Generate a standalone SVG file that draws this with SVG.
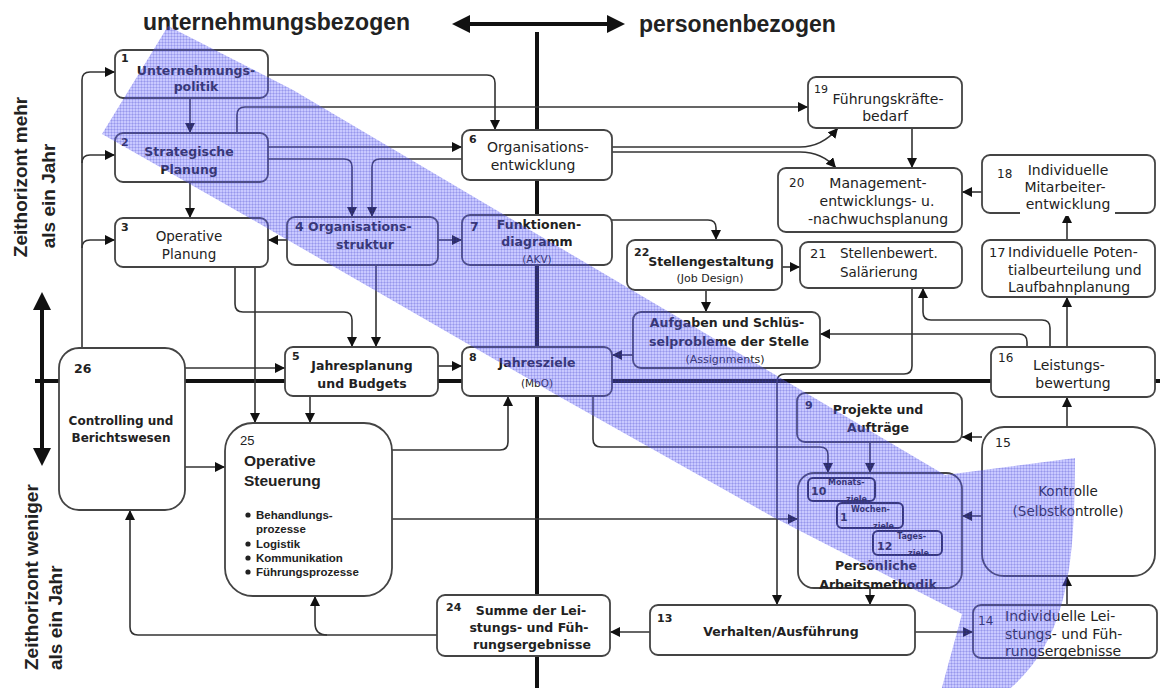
<svg xmlns="http://www.w3.org/2000/svg" width="1160" height="688" viewBox="0 0 1160 688">
<style>
  .box{fill:#fff;stroke:#444;stroke-width:1.8}
  .t{font-family:"DejaVu Sans",Verdana,sans-serif;fill:#222}
  .a{font-family:"Liberation Sans",Arial,sans-serif;fill:#222}
  .bd{font-weight:bold;font-size:12.5px}
  .rg{font-size:14px}
  .sm{font-size:10.5px}
  .num{font-size:11px;font-weight:bold}
  .m{text-anchor:middle}
  .c{fill:none;stroke:#333;stroke-width:1.6;marker-end:url(#ah)}
  .k{fill:none;stroke:#111;stroke-width:4}
  .inner{fill:#fff;stroke:#223;stroke-width:2}
  .tiny{font-size:8px;font-weight:bold}
</style>
<defs>
  <marker id="ah" viewBox="0 0 10 10" refX="10" refY="5" markerWidth="10" markerHeight="10" markerUnits="userSpaceOnUse" orient="auto">
    <path d="M0,0 L10,5 L0,10 z" fill="#111"/>
  </marker>
  <pattern id="grid" width="3" height="3" patternUnits="userSpaceOnUse">
    <rect width="3" height="3" fill="#6464ff" fill-opacity="0.35"/>
    <path d="M0,0.5 H3 M0.5,0 V3" stroke="#3030c8" stroke-opacity="0.18" stroke-width="1"/>
  </pattern>
</defs>

<!-- headings and axes -->
<g id="axes">
  <text class="a" x="143" y="30" font-size="23" font-weight="bold">unternehmungsbezogen</text>
  <text class="a" x="639" y="32" font-size="23" font-weight="bold">personenbezogen</text>
  <path class="k" d="M468,24 H610"/>
  <polygon points="452,24 470,15 470,33" fill="#111"/>
  <polygon points="625,24 607,15 607,33" fill="#111"/>
  <path class="k" d="M537,32 V688" stroke-width="3.5"/>
  <path class="k" d="M35,381 H1160" stroke-width="3.5"/>
  <path class="k" d="M42,308 V450"/>
  <polygon points="42,292 33,310 51,310" fill="#111"/>
  <polygon points="42,466 33,448 51,448" fill="#111"/>
  <text class="a" font-size="19" font-weight="bold" text-anchor="middle" transform="translate(27,177) rotate(-90)">Zeithorizont mehr</text>
  <text class="a" font-size="19" font-weight="bold" text-anchor="middle" transform="translate(55,196) rotate(-90)">als ein Jahr</text>
  <text class="a" font-size="19" font-weight="bold" transform="translate(38,670) rotate(-90)">Zeithorizont weniger</text>
  <text class="a" font-size="19" font-weight="bold" transform="translate(62,670) rotate(-90)">als ein Jahr</text>
</g>

<!-- connectors -->
<g id="connectors">
  <path class="c" d="M82,348 V80 Q82,72 90,72 H115"/>
  <path class="c" d="M82,163 Q82,155 90,155 H115"/>
  <path class="c" d="M82,248 Q82,240 90,240 H115"/>
  <path class="c" d="M185,368 H285"/>
  <path class="c" d="M185,467 H225"/>
  <path class="c" d="M437,635 H138 Q130,635 130,627 V510"/>
  <path class="c" d="M327,635 Q315,635 315,623 V596"/>
  <path class="c" d="M190,98 V133"/>
  <path class="c" d="M190,182 V218"/>
  <path class="c" d="M268,75 H487 Q495,75 495,83 V130"/>
  <path class="c" d="M237,133 V115 Q237,107 245,107 H808"/>
  <path class="c" d="M268,147 H462"/>
  <path class="c" d="M268,159 H344 Q352,159 352,167 V217"/>
  <path class="c" d="M462,159 H380 Q372,159 372,167 V217"/>
  <path class="c" d="M612,147 H800 Q822,147 838,128"/>
  <path class="c" d="M612,152 H800 Q822,152 836,168"/>
  <path class="c" d="M912,128 V168"/>
  <path class="c" d="M982,192 H962"/>
  <path class="c" d="M1067,240 V213"/>
  <path class="c" d="M1067,347 V297"/>
  <path class="c" d="M1050,347 V328 Q1050,320 1042,320 H931 Q923,320 923,312 V288"/>
  <path class="c" d="M1027,347 V342 Q1027,334 1019,334 H820"/>
  <path class="c" d="M912,288 V366 Q912,374 904,374 H785 Q777,374 777,382 V605"/>
  <path class="c" d="M782,267 H800"/>
  <path class="c" d="M706,290 V312"/>
  <path class="c" d="M612,220 H708 Q716,220 716,228 V240"/>
  <path class="c" d="M438,240 H462"/>
  <path class="c" d="M287,240 H268"/>
  <path class="c" d="M376,265 V347"/>
  <path class="c" d="M235,267 V304 Q235,312 243,312 H344 Q352,312 352,320 V347"/>
  <path class="c" d="M255,267 V423"/>
  <path class="c" d="M310,396 V423"/>
  <path class="c" d="M438,366 H462"/>
  <path class="c" d="M392,450 H500 Q508,450 508,442 V396"/>
  <path class="c" d="M633,355 H612"/>
  <path class="c" d="M593,396 V439 Q593,447 601,447 H820 Q828,447 828,455 V473"/>
  <path class="c" d="M870,442 V473"/>
  <path class="c" d="M392,519 H798"/>
  <path class="c" d="M870,588 V605"/>
  <path class="c" d="M982,516 H962"/>
  <path class="c" d="M982,437 H962"/>
  <path class="c" d="M1067,427 V397"/>
  <path class="c" d="M1067,605 V576"/>
  <path class="c" d="M915,632 H973"/>
  <path class="c" d="M650,632 H610"/>
</g>

<!-- nodes -->
<g id="n1"><rect class="box" x="115" y="50" width="153" height="48" rx="8"/>
  <text class="t num" x="121" y="62">1</text>
  <text class="t bd m" x="196" y="75">Unternehmungs-</text>
  <text class="t bd m" x="196" y="91">politik</text></g>
<g id="n2"><rect class="box" x="115" y="133" width="153" height="49" rx="8"/>
  <text class="t num" x="121" y="146">2</text>
  <text class="t bd m" x="189" y="156">Strategische</text>
  <text class="t bd m" x="189" y="174">Planung</text></g>
<g id="n3"><rect class="box" x="115" y="218" width="153" height="49" rx="8"/>
  <text class="t num" x="121" y="231">3</text>
  <text class="t m" font-size="13.5" x="189" y="241">Operative</text>
  <text class="t m" font-size="13.5" x="189" y="259">Planung</text></g>
<g id="n4"><rect class="box" x="287" y="217" width="151" height="48" rx="8"/>
  <text class="t bd" x="295" y="231">4</text>
  <text class="t bd" x="308" y="231">Organisations-</text>
  <text class="t bd m" x="365" y="249">struktur</text></g>
<g id="n5"><rect class="box" x="285" y="347" width="153" height="49" rx="8"/>
  <text class="t num" x="292" y="360">5</text>
  <text class="t bd m" x="362" y="370">Jahresplanung</text>
  <text class="t bd m" x="362" y="388">und Budgets</text></g>
<g id="n6"><rect class="box" x="462" y="130" width="150" height="50" rx="8"/>
  <text class="t num" x="469" y="143">6</text>
  <text class="t rg m" x="538" y="152">Organisations-</text>
  <text class="t rg m" x="533" y="170">entwicklung</text></g>
<g id="n7"><rect class="box" x="462" y="215" width="150" height="50" rx="8"/>
  <text class="t bd" x="470" y="231">7</text>
  <text class="t bd m" x="539" y="229">Funktionen-</text>
  <text class="t bd m" x="537" y="246">diagramm</text>
  <text class="t sm m" x="537" y="263">(AKV)</text></g>
<g id="n8"><rect class="box" x="462" y="347" width="150" height="49" rx="8"/>
  <text class="t num" x="469" y="361">8</text>
  <text class="t bd m" x="537" y="367">Jahresziele</text>
  <text class="t sm m" x="537" y="387">(MbO)</text></g>
<g id="n22"><rect class="box" x="627" y="240" width="155" height="50" rx="8"/>
  <text class="t num" x="634" y="256">22</text>
  <text class="t bd m" x="711" y="266">Stellengestaltung</text>
  <text class="t m" font-size="11" x="710" y="282">(Job Design)</text></g>
<g id="n21"><rect class="box" x="800" y="242" width="162" height="46" rx="8"/>
  <text class="t" font-size="13" x="810" y="258">21</text>
  <text class="t" font-size="13.5" x="840" y="258">Stellenbewert.</text>
  <text class="t" font-size="13.5" x="840" y="277">Salärierung</text></g>
<g id="n23"><rect class="box" x="633" y="312" width="187" height="56" rx="8"/>
  <text class="t bd m" x="727" y="327">Aufgaben und Schlüs-</text>
  <text class="t bd m" x="729" y="346">selprobleme der Stelle</text>
  <text class="t m" font-size="11" x="725" y="363">(Assignments)</text></g>
<g id="n20"><rect class="box" x="778" y="168" width="184" height="64" rx="8"/>
  <text class="t" font-size="12" x="789" y="187">20</text>
  <text class="t rg m" x="878" y="188">Management-</text>
  <text class="t rg m" x="877" y="206">entwicklungs- u.</text>
  <text class="t rg m" x="878" y="224">-nachwuchsplanung</text></g>
<g id="n19"><rect class="box" x="808" y="77" width="154" height="51" rx="8"/>
  <text class="t" font-size="11" x="814" y="93">19</text>
  <text class="t rg m" x="888" y="104">Führungskräfte-</text>
  <text class="t rg m" x="885" y="121">bedarf</text></g>
<g id="n18"><rect class="box" x="982" y="155" width="173" height="58" rx="8"/>
  <rect x="1020" y="199" width="95" height="17" fill="#fff"/>
  <text class="t" font-size="12" x="997" y="178">18</text>
  <text class="t rg m" x="1068" y="175">Individuelle</text>
  <text class="t rg m" x="1065" y="192">Mitarbeiter-</text>
  <text class="t rg m" x="1068" y="209">entwicklung</text></g>
<g id="n17"><rect class="box" x="982" y="240" width="173" height="57" rx="8"/>
  <text class="t" font-size="13" x="989" y="257">17</text>
  <text class="t rg" x="1008" y="257">Individuelle Poten-</text>
  <text class="t rg" x="1008" y="275">tialbeurteilung und</text>
  <text class="t rg" x="1008" y="292">Laufbahnplanung</text></g>
<g id="n16"><rect class="box" x="991" y="347" width="164" height="50" rx="8"/>
  <text class="t" font-size="12" x="998" y="362">16</text>
  <text class="t rg m" x="1069" y="370">Leistungs-</text>
  <text class="t rg m" x="1073" y="388">bewertung</text></g>
<g id="n9"><rect class="box" x="797" y="393" width="165" height="49" rx="8"/>
  <text class="t num" x="805" y="409">9</text>
  <text class="t bd m" x="878" y="414">Projekte und</text>
  <text class="t bd m" x="878" y="432">Aufträge</text></g>
<g id="n15"><rect class="box" x="982" y="427" width="173" height="149" rx="22"/>
  <text class="t" font-size="12.5" x="995" y="447">15</text>
  <text class="t m" font-size="13.5" x="1068" y="496">Kontrolle</text>
  <text class="t m" font-size="13.5" x="1068" y="516">(Selbstkontrolle)</text></g>
<g id="n11group"><rect class="box" x="798" y="473" width="164" height="115" rx="16" stroke="#333"/>
  <rect class="inner" x="808" y="478" width="67" height="23" rx="5"/>
  <text class="t" font-size="11" font-weight="bold" x="811" y="495">10</text>
  <text class="t tiny" x="828" y="485">Monats-</text>
  <text class="t tiny" x="846" y="502">ziele</text>
  <rect class="inner" x="837" y="503" width="66" height="25" rx="5"/>
  <text class="t" font-size="11" font-weight="bold" x="840" y="521">1</text>
  <text class="t tiny" x="851" y="512">Wochen-</text>
  <text class="t tiny" x="873" y="529">ziele</text>
  <rect class="inner" x="873" y="531" width="69" height="24" rx="5"/>
  <text class="t" font-size="11" font-weight="bold" x="877" y="550">12</text>
  <text class="t tiny" x="897" y="539">Tages-</text>
  <text class="t tiny" x="908" y="556">ziele</text>
  <text class="t bd m" x="876" y="570">Persönliche</text>
  <text class="t bd m" x="878" y="589">Arbeitsmethodik</text></g>
<g id="n13"><rect class="box" x="650" y="605" width="265" height="50" rx="8"/>
  <text class="t num" x="657" y="622">13</text>
  <text class="t bd m" x="781" y="636">Verhalten/Ausführung</text></g>
<g id="n14"><rect class="box" x="973" y="605" width="184" height="53" rx="8"/>
  <text class="t" font-size="12" x="978" y="625">14</text>
  <text class="t rg" x="1005" y="621">Individuelle Lei-</text>
  <text class="t rg" x="1005" y="639">stungs- und Füh-</text>
  <text class="t rg" x="1005" y="656">rungsergebnisse</text></g>
<g id="n24"><rect class="box" x="437" y="595" width="173" height="61" rx="8"/>
  <text class="t num" x="446" y="611">24</text>
  <text class="t bd m" x="531" y="615">Summe der Lei-</text>
  <text class="t bd m" x="529" y="632">stungs- und Füh-</text>
  <text class="t bd m" x="532" y="649">rungsergebnisse</text></g>
<g id="n25"><rect class="box" x="225" y="423" width="167" height="173" rx="28"/>
  <text class="a" font-size="13" x="240" y="445">25</text>
  <text class="a" font-size="15.5" font-weight="bold" x="244" y="466">Operative</text>
  <text class="a" font-size="15.5" font-weight="bold" x="244" y="486">Steuerung</text>
  <circle cx="248" cy="515" r="2.6" fill="#222"/>
  <circle cx="248" cy="544" r="2.6" fill="#222"/>
  <circle cx="248" cy="558" r="2.6" fill="#222"/>
  <circle cx="248" cy="572" r="2.6" fill="#222"/>
  <text class="a" font-size="11.5" font-weight="bold" x="256" y="519">Behandlungs-</text>
  <text class="a" font-size="11.5" font-weight="bold" x="256" y="533">prozesse</text>
  <text class="a" font-size="11.5" font-weight="bold" x="256" y="548">Logistik</text>
  <text class="a" font-size="11.5" font-weight="bold" x="256" y="562">Kommunikation</text>
  <text class="a" font-size="11.5" font-weight="bold" x="256" y="576">Führungsprozesse</text></g>
<g id="n26"><rect class="box" x="59" y="348" width="126" height="162" rx="20"/>
  <text class="t" font-size="12.5" font-weight="bold" x="74" y="373">26</text>
  <text class="t m" font-size="12" font-weight="bold" x="121" y="425">Controlling und</text>
  <text class="t m" font-size="12" font-weight="bold" x="121" y="442">Berichtswesen</text></g>

<!-- translucent process band laid over the whole chart -->
<path id="band" fill="url(#grid)" d="M168,26 L293,90 L945,475 L1075,458 C1074,560 1072,650 992,702 L938,702 L962,614 L773,517 L560,397 L253,220 L102,134 Z"/>
</svg>
